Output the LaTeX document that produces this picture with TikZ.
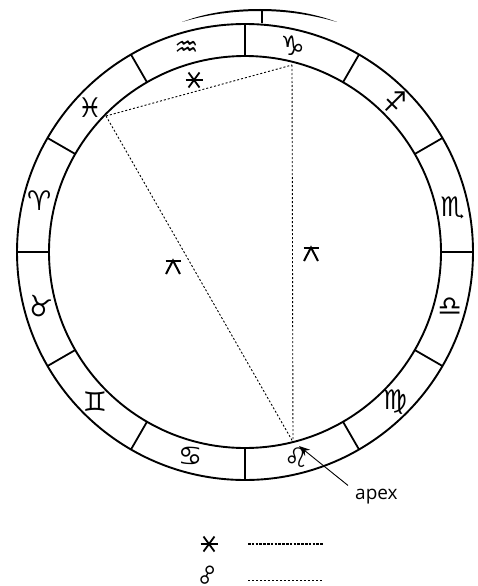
\documentclass[tikz,border=0pt]{standalone}
\usepackage{fontspec}
\usepackage{tikz}
\usetikzlibrary{arrows.meta,positioning,calc}
\setmainfont{Open Sans}
\newfontfamily\astrofont{DejaVu Sans}

\begin{document}
\begin{tikzpicture}[
    x=1pt, y=-1pt,
    ring/.style={line width=1.9pt},
    tick/.style={line width=1.8pt},
    sign/.style={font=\astrofont\fontsize{27}{27}\selectfont, inner sep=0pt},
    link/.style={dash pattern=on 2pt off 2pt, line width=0.9pt},
    arrow/.style={-{Stealth[length=11pt,width=8pt]}, line width=0.9pt},
    sextile/.pic={
      \draw[line width=1.8pt] (-8.5,0) -- (8.5,0);
      \draw[line width=1.8pt] (-5.5,-7.5) -- (5.5,7.5);
      \draw[line width=1.8pt] (-5.5,7.5) -- (5.5,-7.5);
    },
    quincunx/.pic={
      \draw[line width=2pt] (-7.5,-6.5) -- (7.5,-6.5);
      \draw[line width=2pt] (-7,7) -- (0,-6.5) -- (7,7);
    }
]
\useasboundingbox (0,0) rectangle (478,586);
\coordinate (c) at (245,252);

\draw[ring] (c) circle (228);
\draw[ring] (c) circle (196);
\foreach \a in {0,30,...,330}
  \draw[tick] ($(c)+(\a:196)$) -- ($(c)+(\a:228)$);

% signs
\node[sign] (aqu) at ($(c)+(-106:212)$) {♒};
\node[sign] (cap) at ($(c)+(-77:212)$) {♑};
\node[sign] (sag) at ($(c)+(-45:212)$) {♐};
\node[sign] (sco) at ($(c)+(-12:212)$) {♏};
\node[sign] (lib) at ($(c)+(15:212)$) {♎};
\node[sign] (vir) at ($(c)+(45:212)$) {♍};
\node[sign] (leo) at ($(c)+(76:212)$) {♌};
\node[sign] (can) at ($(c)+(105:212)$) {♋};
\node[sign] (gem) at ($(c)+(135:212)$) {♊};
\node[sign, rotate=-15] (tau) at ($(c)+(165:212)$) {♉};
\node[sign] (ari) at ($(c)+(-166:212)$) {♈};
\node[sign] (pis) at ($(c)+(-137:212)$) {♓};

% top mark
\coordinate (t0) at (182,22);
\coordinate (t1) at (262,10);
\coordinate (t2) at (337,22);
\fill (t0) .. controls (208,12) and (236,9) .. (260,9) .. controls (287,9) and (313,13) .. (t2)
  .. controls (313,15) and (287,11) .. (260,11) .. controls (236,11) and (208,14) .. (t0);
\draw[line width=1.1pt] (t1) -- (262,23);

% aspects
\coordinate (pA) at (106,116);
\coordinate (pB) at (292,65);
\coordinate (pC) at (293,442);
\draw[link] (pA) -- (pB);
\draw[link] (pA) -- (pC);
\draw[link] (pB) -- (pC);
\pic (sx) at (194,80) {sextile};
\pic (q1) at (173,267) {quincunx};
\pic (q2) at (311,254) {quincunx};

% apex
\node[font=\fontsize{19}{19}\selectfont, inner sep=0pt, anchor=base west] (apex) at (355,499) {apex};
\coordinate (tip) at (299,446);
\draw[arrow] (apex.north west) ++(-7,-3) coordinate (tail) -- (tip);

% key
\pic (k1) at (209,544) {sextile};
\node[sign, font=\astrofont\fontsize{20}{20}\selectfont, rotate=30] (k2) at (208,575) {☍};
\coordinate (k1a) at (248,544);
\coordinate (k1b) at (323,544);
\coordinate (k2a) at (248,580);
\coordinate (k2b) at (323,580);
\draw[dash pattern=on 2.6pt off 1.2pt, line width=1.2pt] (k1a) -- (k1b);
\draw[dash pattern=on 2.4pt off 1.6pt, line width=0.5pt] (k2a) -- (k2b);
\end{tikzpicture}
\end{document}
